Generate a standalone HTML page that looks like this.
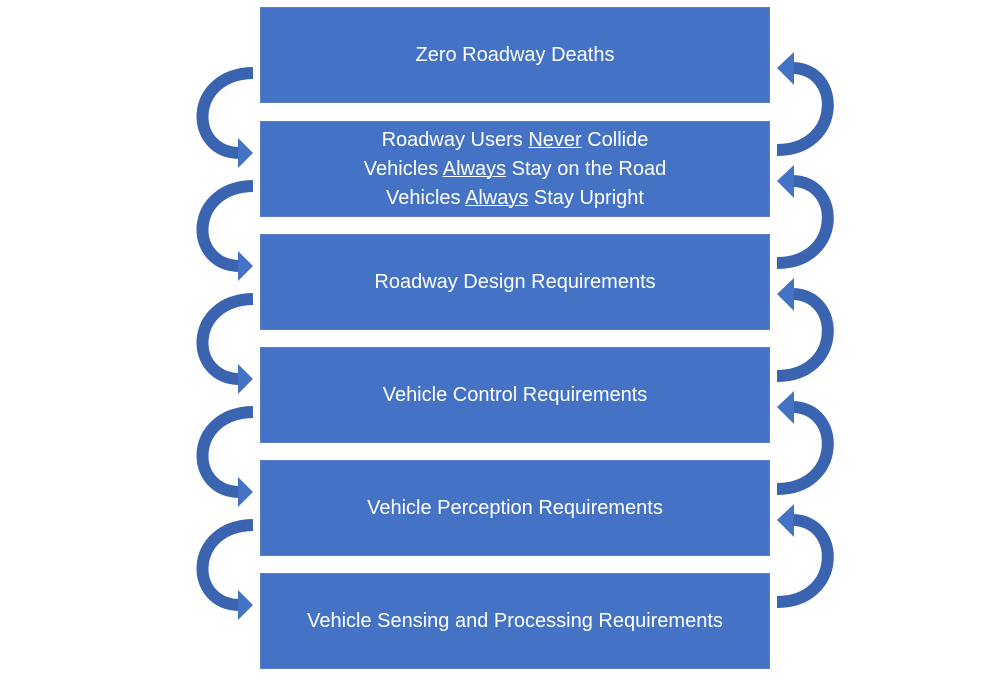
<!DOCTYPE html>
<html><head><style>
body{margin:0;background:#fff;width:1000px;height:681px;overflow:hidden;position:relative;font-family:"Liberation Sans",sans-serif}
.b{position:absolute;left:260px;width:510px;height:96px;background:#4472c4;border:1px solid #5b7fc8;box-sizing:border-box;color:#fff;font-size:20px;display:flex;align-items:center;justify-content:center;text-align:center;line-height:29px}
u{text-decoration-thickness:1px}
svg{position:absolute;left:0;top:0}
</style></head><body>
<svg width="1000" height="681">
<defs>
<g id="L">
<path d="M253,73 C188,74 188,153 240,153" fill="none" stroke="#3a64b0" stroke-width="12"/>
<polygon points="253,153 238,138 238,168" fill="#4472c4"/>
</g>
<g id="R">
<path d="M777,150 C842,150 842,68 792,68" fill="none" stroke="#3a64b0" stroke-width="12"/>
<polygon points="777,68 794,52 794,85" fill="#4472c4"/>
</g>
</defs>
<use href="#L" y="0"/><use href="#L" y="113"/><use href="#L" y="226"/><use href="#L" y="339"/><use href="#L" y="452"/>
<use href="#R" y="0"/><use href="#R" y="113"/><use href="#R" y="226"/><use href="#R" y="339"/><use href="#R" y="452"/>
</svg>
<div class="b" style="top:7px"><span>Zero Roadway Deaths</span></div>
<div class="b" style="top:121px"><span>Roadway Users <u>Never</u> Collide<br>Vehicles <u>Always</u> Stay on the Road<br>Vehicles <u>Always</u> Stay Upright</span></div>
<div class="b" style="top:234px"><span>Roadway Design Requirements</span></div>
<div class="b" style="top:347px"><span>Vehicle Control Requirements</span></div>
<div class="b" style="top:460px"><span>Vehicle Perception Requirements</span></div>
<div class="b" style="top:573px"><span>Vehicle Sensing and Processing Requirements</span></div>
</body></html>
